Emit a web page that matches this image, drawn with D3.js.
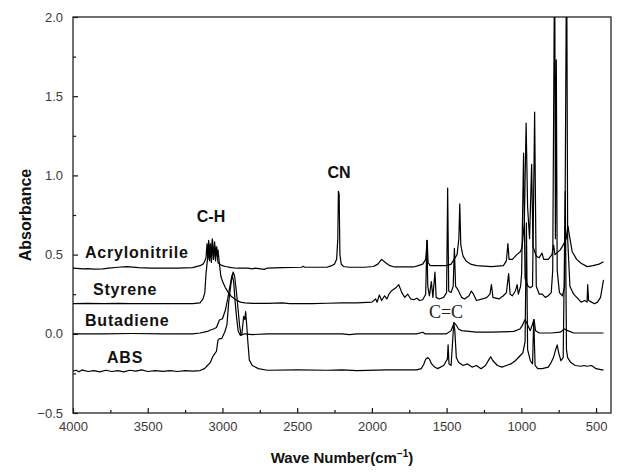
<!DOCTYPE html>
<html>
<head>
<meta charset="utf-8">
<script src="https://cdn.jsdelivr.net/npm/d3@7"></script>
<style>
  body { margin: 0; background: #fff; }
  svg { display: block; font-family: Arial, "Liberation Sans", sans-serif; }
</style>
</head>
<body>
<svg width="618" height="472"></svg>
<script>
// spectra: [wave number, absorbance]
var acrylonitrile = [[4000,0.415],[3930,0.41],[3900,0.412],[3860,0.408],[3800,0.41],[3760,0.415],[3700,0.42],[3640,0.424],[3560,0.418],[3480,0.414],[3400,0.414],[3300,0.415],[3200,0.418],[3150,0.43],[3130,0.44],[3120,0.455],[3110,0.48],[3103,0.57],[3098,0.47],[3092,0.59],[3086,0.46],[3080,0.56],[3074,0.45],[3066,0.59],[3060,0.47],[3052,0.58],[3046,0.46],[3038,0.55],[3030,0.45],[3020,0.44],[3000,0.43],[2980,0.425],[2940,0.418],[2900,0.414],[2830,0.415],[2800,0.41],[2780,0.415],[2720,0.407],[2700,0.415],[2600,0.418],[2470,0.42],[2460,0.426],[2450,0.42],[2300,0.42],[2270,0.43],[2250,0.44],[2236,0.47],[2228,0.6],[2224,0.9],[2219,0.88],[2214,0.5],[2205,0.44],[2190,0.425],[2150,0.42],[2050,0.42],[1990,0.425],[1960,0.44],[1935,0.47],[1910,0.45],[1880,0.43],[1850,0.422],[1720,0.422],[1690,0.43],[1660,0.44],[1640,0.47],[1630,0.59],[1624,0.45],[1610,0.43],[1540,0.43],[1500,0.43],[1470,0.44],[1450,0.47],[1430,0.5],[1418,0.6],[1412,0.82],[1405,0.56],[1390,0.49],[1370,0.46],[1340,0.44],[1300,0.43],[1200,0.424],[1120,0.43],[1100,0.46],[1090,0.57],[1082,0.47],[1060,0.47],[1030,0.5],[1005,0.52],[995,0.55],[980,0.7],[968,1.33],[958,0.8],[945,0.6],[931,1.07],[922,0.55],[900,0.49],[880,0.48],[862,0.51],[850,0.47],[820,0.47],[795,0.5],[784,0.56],[775,0.5],[740,0.53],[720,0.56],[700,0.6],[688,0.68],[678,0.62],[660,0.52],[630,0.47],[600,0.445],[560,0.424],[520,0.43],[480,0.44],[450,0.455]];

var styrene = [[4000,0.19],[3900,0.192],[3800,0.19],[3700,0.192],[3600,0.19],[3400,0.19],[3200,0.19],[3150,0.195],[3130,0.22],[3118,0.26],[3110,0.38],[3100,0.47],[3090,0.5],[3082,0.57],[3076,0.48],[3068,0.6],[3060,0.47],[3050,0.55],[3040,0.5],[3030,0.53],[3020,0.44],[3010,0.36],[2995,0.32],[2980,0.29],[2960,0.26],[2940,0.235],[2910,0.215],[2880,0.2],[2850,0.195],[2800,0.192],[2700,0.192],[2600,0.195],[2550,0.19],[2400,0.19],[2300,0.193],[2200,0.195],[2100,0.195],[2000,0.2],[1975,0.22],[1965,0.2],[1950,0.245],[1935,0.21],[1915,0.24],[1900,0.22],[1886,0.25],[1870,0.27],[1840,0.29],[1820,0.31],[1800,0.26],[1780,0.23],[1760,0.25],[1740,0.22],[1720,0.215],[1700,0.225],[1680,0.21],[1660,0.215],[1640,0.25],[1632,0.59],[1626,0.3],[1615,0.24],[1602,0.33],[1592,0.23],[1578,0.39],[1570,0.23],[1550,0.22],[1520,0.23],[1500,0.26],[1493,0.92],[1486,0.27],[1470,0.26],[1456,0.3],[1448,0.54],[1440,0.3],[1425,0.28],[1400,0.23],[1380,0.22],[1350,0.24],[1335,0.27],[1320,0.25],[1300,0.21],[1260,0.22],[1230,0.23],[1210,0.25],[1200,0.31],[1190,0.23],[1150,0.22],[1120,0.24],[1100,0.26],[1085,0.38],[1075,0.25],[1060,0.24],[1040,0.27],[1028,0.31],[1020,0.25],[1005,0.3],[998,0.38],[985,1.14],[975,0.35],[955,0.3],[940,0.29],[925,0.3],[911,1.40],[900,0.3],[880,0.25],[860,0.25],[840,0.23],[820,0.24],[800,0.26],[790,0.4],[777,2.5],[772,0.6],[766,1.73],[760,0.4],[745,0.26],[725,0.24],[710,0.3],[697,2.5],[690,0.6],[675,0.3],[650,0.25],[620,0.22],[600,0.2],[575,0.21],[560,0.2],[556,0.31],[550,0.21],[530,0.2],[510,0.19],[490,0.2],[470,0.23],[450,0.34]];

var butadiene = [[4000,0.0],[3800,0.0],[3600,0.002],[3400,0.0],[3200,0.0],[3150,0.005],[3100,0.015],[3080,0.024],[3060,0.03],[3040,0.04],[3020,0.087],[3000,0.095],[2980,0.15],[2965,0.22],[2950,0.3],[2940,0.35],[2928,0.39],[2918,0.36],[2905,0.25],[2895,0.15],[2885,0.05],[2875,-0.008],[2850,0.0],[2800,-0.005],[2700,0.0],[2500,0.0],[2300,0.0],[2200,0.0],[2150,-0.005],[2100,0.0],[1900,0.0],[1700,0.0],[1660,0.01],[1645,0.0],[1600,0.0],[1500,0.0],[1470,0.02],[1450,0.07],[1440,0.06],[1420,0.03],[1400,0.02],[1300,0.01],[1200,0.01],[1050,0.015],[1010,0.03],[995,0.05],[975,0.09],[960,0.06],[940,0.02],[915,0.09],[905,0.02],[880,0.005],[800,0.005],[740,0.01],[710,0.03],[690,0.02],[650,0.005],[500,0.005],[450,0.005]];

var abs = [[4000,-0.235],[3980,-0.23],[3960,-0.24],[3940,-0.228],[3900,-0.238],[3860,-0.232],[3820,-0.24],[3780,-0.23],[3740,-0.238],[3700,-0.232],[3660,-0.24],[3620,-0.23],[3580,-0.236],[3540,-0.228],[3500,-0.238],[3450,-0.232],[3400,-0.237],[3350,-0.232],[3300,-0.238],[3250,-0.232],[3200,-0.236],[3150,-0.232],[3120,-0.22],[3100,-0.2],[3080,-0.18],[3065,-0.145],[3050,-0.124],[3040,-0.11],[3030,-0.04],[3020,-0.03],[3005,-0.03],[2985,0.01],[2970,0.056],[2958,0.2],[2945,0.3],[2935,0.37],[2925,0.33],[2915,0.2],[2905,0.1],[2895,0.02],[2880,-0.01],[2870,0.0],[2858,0.11],[2850,0.09],[2845,0.14],[2838,0.06],[2830,-0.05],[2820,-0.166],[2800,-0.2],[2760,-0.22],[2700,-0.23],[2500,-0.228],[2300,-0.23],[2200,-0.228],[2100,-0.232],[1900,-0.228],[1700,-0.228],[1670,-0.22],[1654,-0.195],[1640,-0.16],[1625,-0.15],[1615,-0.16],[1600,-0.19],[1580,-0.21],[1560,-0.22],[1520,-0.2],[1495,-0.16],[1490,-0.07],[1484,-0.19],[1470,-0.2],[1460,-0.05],[1452,0.07],[1445,0.02],[1435,-0.15],[1420,-0.18],[1390,-0.2],[1360,-0.19],[1330,-0.21],[1300,-0.2],[1270,-0.22],[1240,-0.2],[1215,-0.16],[1205,-0.145],[1190,-0.17],[1160,-0.2],[1130,-0.21],[1100,-0.2],[1070,-0.19],[1040,-0.17],[1010,-0.14],[990,-0.12],[975,-0.05],[966,0.7],[958,-0.1],[940,-0.17],[925,-0.19],[917,0.09],[908,-0.2],[890,-0.22],[860,-0.22],[820,-0.21],[800,-0.18],[785,-0.15],[770,-0.1],[760,-0.07],[750,-0.12],[735,-0.17],[720,-0.15],[706,0.9],[698,-0.1],[690,-0.15],[670,-0.18],[640,-0.2],[600,-0.205],[580,-0.2],[560,-0.205],[530,-0.2],[500,-0.22],[460,-0.228],[450,-0.228]];

var xTicks = [4000, 3500, 3000, 2500, 2000, 1500, 1000, 500];
var xMinor = [3750, 3250, 2750, 2250, 1750, 1250, 750];
var yTicks = [-0.5, 0.0, 0.5, 1.0, 1.5, 2.0];
var yMinor = [-0.25, 0.25, 0.75, 1.25, 1.75];

var svg = d3.select("svg");
var padLeft = 73, padTop = 17, w = 538, h = 396;

var xScale = d3.scaleLinear().domain([4000, 400]).range([0, w]);
var yScale = d3.scaleLinear().domain([-0.5, 2.0]).range([h, 0]);

var g = svg.append("g").attr("transform", "translate(" + padLeft + "," + padTop + ")");

g.append("clipPath").attr("id", "clip")
  .append("rect").attr("width", w).attr("height", h);

// axes, ticks pointing inside
var xAxis = d3.axisBottom(xScale).tickValues(xTicks).tickSize(-5).tickPadding(9)
  .tickFormat(d3.format("d"));
var yAxis = d3.axisLeft(yScale).tickValues(yTicks).tickSize(-5).tickPadding(10)
  .tickFormat(function(d) { return d3.format(".1f")(d).replace("-", "\u2212"); });

g.append("g").attr("transform", "translate(0," + h + ")").call(xAxis);
g.append("g").attr("transform", "translate(0," + h + ")")
  .call(d3.axisBottom(xScale).tickValues(xMinor).tickSize(-3).tickFormat(""));
g.append("g").call(yAxis);
g.append("g").call(d3.axisLeft(yScale).tickValues(yMinor).tickSize(-3).tickFormat(""));

g.selectAll(".domain").remove();
g.selectAll(".tick line").attr("stroke", "#111").attr("stroke-width", 1.2);
g.selectAll(".tick text").attr("font-size", 13).attr("fill", "#3a3a3a")
  .attr("font-family", "Arial, 'Liberation Sans', sans-serif");

g.append("rect").attr("width", w).attr("height", h)
  .attr("fill", "none").attr("stroke", "#222").attr("stroke-width", 1.3);

var line = d3.line()
  .x(function(d) { return xScale(d[0]); })
  .y(function(d) { return yScale(d[1]); });

var series = [acrylonitrile, styrene, butadiene, abs];
g.append("g").attr("clip-path", "url(#clip)")
  .selectAll("path").data(series).enter().append("path")
  .attr("d", line)
  .attr("fill", "none")
  .attr("stroke", "#000")
  .attr("stroke-width", 1.2)
  .attr("stroke-linejoin", "round");

// series names and band labels
var names = [
  {t: "Acrylonitrile", x: 85, y: 258},
  {t: "Styrene", x: 93, y: 295},
  {t: "Butadiene", x: 85, y: 326},
  {t: "ABS", x: 107, y: 363}
];
svg.selectAll("text.name").data(names).enter().append("text")
  .attr("class", "name")
  .attr("x", function(d) { return d.x; })
  .attr("y", function(d) { return d.y; })
  .attr("font-size", 16).attr("font-weight", "bold")
  .attr("letter-spacing", 0.8).attr("fill", "#111")
  .text(function(d) { return d.t; });

svg.append("text").attr("x", 211).attr("y", 222).attr("text-anchor", "middle")
  .attr("font-size", 16).attr("font-weight", "bold").attr("fill", "#111").text("C-H");
svg.append("text").attr("x", 339).attr("y", 178).attr("text-anchor", "middle")
  .attr("font-size", 16).attr("font-weight", "bold").attr("fill", "#111").text("CN");
svg.append("text").attr("x", 446).attr("y", 318).attr("text-anchor", "middle")
  .attr("font-size", 18).attr("font-family", "'Liberation Serif', 'Times New Roman', serif")
  .attr("fill", "#222").text("C=C");

// axis titles
svg.append("text")
  .attr("transform", "translate(31," + (padTop + h / 2) + ") rotate(-90)")
  .attr("text-anchor", "middle").attr("font-size", 16).attr("font-weight", "bold")
  .attr("fill", "#111").text("Absorbance");

var xt = svg.append("text").attr("x", padLeft + w / 2).attr("y", 463)
  .attr("text-anchor", "middle").attr("font-size", 15).attr("font-weight", "bold")
  .attr("fill", "#111");
xt.append("tspan").text("Wave Number(cm");
xt.append("tspan").attr("dy", -6).attr("font-size", 10).text("\u22121");
xt.append("tspan").attr("dy", 6).text(")");
</script>
</body>
</html>
